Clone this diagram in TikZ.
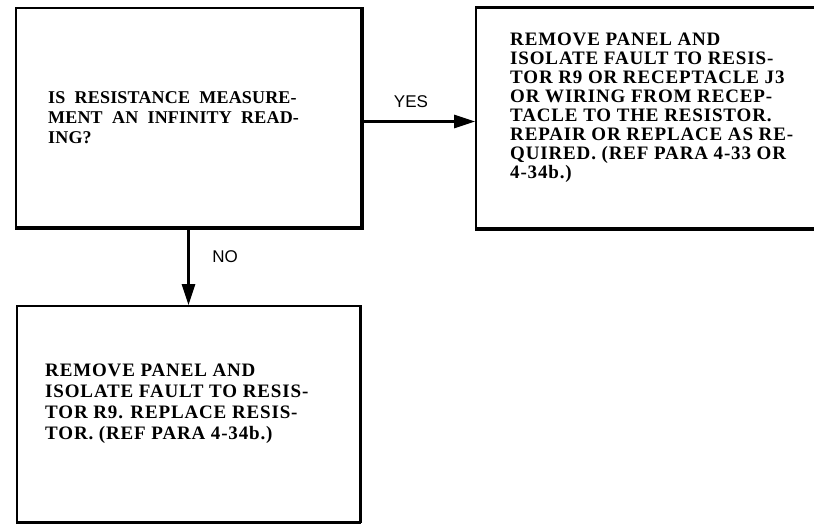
\documentclass[tikz,border=0pt]{standalone}
\usepackage{fontspec}
\setmainfont{Liberation Serif}
\newfontfamily\qfont[LetterSpace=1]{Liberation Serif}
\newfontfamily\actfont[LetterSpace=4.5]{Liberation Serif}
\newfontfamily\lblfont{Liberation Sans}
\usetikzlibrary{arrows.meta, calc}
\tikzset{
  box/.style={draw, line width=1.6pt, inner sep=0pt},
  heavy/.style={line width=4.5pt},
  flow/.style={line width=2.6pt, -{Triangle[length=21pt, width=13pt]}},
  lbl/.style={font=\lblfont\fontsize{17}{17}\selectfont, inner sep=0pt},
  qtext/.style={font=\qfont\bfseries\fontsize{18}{20}\selectfont, align=left, inner sep=0pt},
  acttext/.style={font=\actfont\bfseries\fontsize{19}{19}\selectfont, align=left, inner sep=0pt},
}

\begin{document}
\begin{tikzpicture}[x=1pt, y=1pt]
  \useasboundingbox (0,0) rectangle (814,524);
  % decision box and its two outcomes
  \node[box, minimum width=345pt, minimum height=219pt] (q) at (188.5,406.5) {};
  \node[box, minimum width=342pt, minimum height=220pt] (fix) at (647,406) {};
  \node[box, minimum width=343pt, minimum height=216pt] (swap) at (188.5,110) {};
  % heavier right/bottom edges
  \draw[heavy] (q.north east) -- (q.south east) -- (q.south west);
  \draw[heavy] (fix.south west) -- (fix.south east);
  \draw[line width=2.6pt] (fix.north west) -- (fix.north east);
  \draw[line width=3pt] (swap.north east) -- (swap.south east);
  \draw[heavy] (swap.south east) -- (swap.south west);
  % box texts
  \node[qtext, anchor=west] (qt) at (48,406) {IS\ \ RESISTANCE\ \ MEASURE-\\MENT\ \ AN\ \ INFINITY\ \ READ-\\ING?};
  \node[acttext, anchor=west] (fixt) at (510,416) {REMOVE PANEL AND\\ISOLATE FAULT TO RESIS-\\TOR R9 OR RECEPTACLE J3\\OR WIRING FROM RECEP-\\TACLE TO THE RESISTOR.\\REPAIR OR REPLACE AS RE-\\QUIRED. (REF PARA 4-33 OR\\4-34b.)};
  \node[acttext, anchor=west, font=\actfont\bfseries\fontsize{19}{21}\selectfont] (swapt) at (45,120) {REMOVE PANEL AND\\ISOLATE FAULT TO RESIS-\\TOR R9. REPLACE RESIS-\\TOR. (REF PARA 4-34b.)};
  % connectors
  \draw[flow] ([yshift=-4pt]q.east) -- ([yshift=-4pt]q.east -| fix.west);
  \draw[flow] (q.south) -- (swap.north);
  \node[lbl] (yes) at (411,422) {YES};
  \node[lbl] (no) at (225,267) {NO};
\end{tikzpicture}
\end{document}
